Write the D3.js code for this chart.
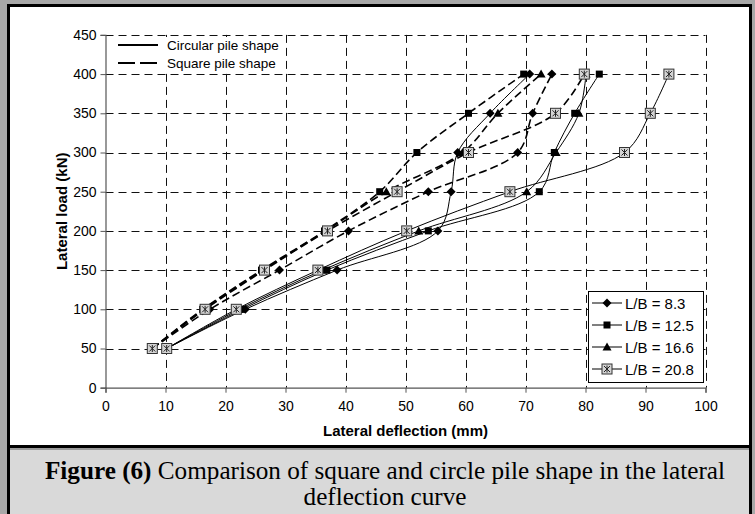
<!DOCTYPE html>
<html><head><meta charset="utf-8">
<script src="https://cdn.jsdelivr.net/npm/d3@7"></script>
<style>body{margin:0;background:#fff}svg{display:block}</style>
</head><body><svg id="c" width="755" height="514"></svg>
<script>
// ---------- data ----------
const loads = [50, 100, 150, 200, 250, 300, 350, 400];
const xTicks = [0, 10, 20, 30, 40, 50, 60, 70, 80, 90, 100];
const yTicks = [0, 50, 100, 150, 200, 250, 300, 350, 400, 450];
const ratioLabels = ["L/B = 8.3", "L/B = 12.5", "L/B = 16.6", "L/B = 20.8"];
const markerTypes = ["diamond", "square", "triangle", "squareX"];
const shapeLabels = ["Circular pile shape", "Square pile shape"];
// circular pile (solid lines): deflection (mm) at each load
const circular_8_3  = [10.2, 23.3, 38.6, 55.4, 57.6, 58.7, 64.1, 70.7];
const circular_12_5 = [10.2, 22.8, 36.9, 53.8, 72.3, 74.8, 78.2, 82.3];
const circular_16_6 = [10.2, 22.3, 36.2, 52.2, 70.2, 75.1, 78.9, 80.1];
const circular_20_8 = [10.2, 21.8, 35.4, 50.2, 67.4, 86.5, 90.8, 93.9];
// square pile (dashed lines)
const square_8_3  = [7.8, 17.4, 29.0, 40.5, 53.8, 68.7, 71.2, 74.4];
const square_12_5 = [7.8, 16.2, 26.0, 36.5, 45.7, 51.9, 60.5, 69.7];
const square_16_6 = [7.8, 16.4, 26.3, 36.7, 46.8, 59.5, 65.4, 72.6];
const square_20_8 = [7.8, 16.6, 26.5, 37.0, 48.6, 60.5, 75.0, 79.8];

const series = [
  {vals: circular_8_3, m: 0, dashed: false},
  {vals: circular_12_5, m: 1, dashed: false},
  {vals: circular_16_6, m: 2, dashed: false},
  {vals: circular_20_8, m: 3, dashed: false},
  {vals: square_8_3, m: 0, dashed: true},
  {vals: square_12_5, m: 1, dashed: true},
  {vals: square_16_6, m: 2, dashed: true},
  {vals: square_20_8, m: 3, dashed: true}
];

// ---------- frame ----------
const svg = d3.select("#c");
svg.append("rect").attr("x",0).attr("y",0).attr("width",755).attr("height",514).attr("fill","#a8a8a8");
svg.append("rect").attr("x",7).attr("y",4).attr("width",745).attr("height",512).attr("fill","#000");
svg.append("rect").attr("x",10).attr("y",7).attr("width",739).attr("height",438).attr("fill","#fff");
svg.append("rect").attr("x",10).attr("y",448).attr("width",739).attr("height",70).attr("fill","#d9d9d9");
svg.append("rect").attr("x",10).attr("y",448).attr("width",739).attr("height",2).attr("fill","#9a9a9a");

const x = d3.scaleLinear().domain([0, 100]).range([105.5, 705.5]);
const y = d3.scaleLinear().domain([0, 450]).range([387.7, 34.9]);

// grid
const grid = svg.append("g").attr("stroke","#111").attr("stroke-width",1).attr("stroke-dasharray","8,5");
grid.selectAll(".gx").data(xTicks.slice(1)).join("line")
  .attr("x1", d=>Math.round(x(d))+0.5).attr("x2", d=>Math.round(x(d))+0.5)
  .attr("y1", y(450)).attr("y2", y(0));
grid.selectAll(".gy").data(yTicks.slice(1)).join("line")
  .attr("y1", d=>Math.round(y(d))+0.5).attr("y2", d=>Math.round(y(d))+0.5)
  .attr("x1", x(0)).attr("x2", x(100));

// top-left legend background (hides grid)
svg.append("rect").attr("x",108).attr("y",37).attr("width",175).attr("height",33).attr("fill","#fff");

// axes
const xAxis = svg.append("g").attr("transform",`translate(0,${y(0)})`)
  .call(d3.axisBottom(x).tickValues(xTicks).tickSize(5).tickPadding(8).tickFormat(d3.format("d")));
const yAxis = svg.append("g").attr("transform",`translate(${x(0)},0)`)
  .call(d3.axisLeft(y).tickValues(yTicks).tickSize(5).tickPadding(4).tickFormat(d3.format("d")));
[xAxis, yAxis].forEach(a => {
  a.select(".domain").attr("stroke","#555").attr("stroke-width",1.2);
  a.selectAll(".tick line").attr("stroke","#555");
  a.selectAll("text").attr("font-family","'Liberation Sans', Arial, sans-serif").attr("font-size",14).attr("fill","#000");
});

// axis titles
svg.append("text").attr("x", 405.5).attr("y", 436).attr("text-anchor","middle")
  .attr("font-family","'Liberation Sans', Arial, sans-serif").attr("font-weight","bold").attr("font-size",15)
  .text("Lateral deflection (mm)");
svg.append("text").attr("transform",`translate(67,${(y(0)+y(450))/2}) rotate(-90)`).attr("text-anchor","middle")
  .attr("font-family","'Liberation Sans', Arial, sans-serif").attr("font-weight","bold").attr("font-size",15)
  .text("Lateral load (kN)");

// lines
const line = d3.line().x(d=>x(d[0])).y(d=>y(d[1])).curve(d3.curveCatmullRom.alpha(0.5));
const lg = svg.append("g").attr("fill","none").attr("stroke","#000");
series.forEach(s => {
  const pts = s.vals.map((v,i)=>[v, loads[i]]);
  lg.append("path").attr("d", line(pts))
    .attr("stroke-width", s.dashed ? 1.6 : 1)
    .attr("stroke-dasharray", s.dashed ? "8,4" : null);
});

// markers
function marker(g, type, cx, cy) {
  if (type === "diamond") {
    g.append("path").attr("d",`M${cx},${cy-4.5}L${cx+4.5},${cy}L${cx},${cy+4.5}L${cx-4.5},${cy}Z`).attr("fill","#000");
  } else if (type === "square") {
    g.append("rect").attr("x",cx-3.5).attr("y",cy-3.5).attr("width",7).attr("height",7).attr("fill","#000");
  } else if (type === "triangle") {
    g.append("path").attr("d",`M${cx},${cy-4.5}L${cx+4.5},${cy+3.5}L${cx-4.5},${cy+3.5}Z`).attr("fill","#000");
  } else {
    g.append("rect").attr("x",cx-5).attr("y",cy-5).attr("width",10).attr("height",10)
      .attr("fill","#d4d4d4").attr("stroke","#333").attr("stroke-width",1);
    g.append("path").attr("d",`M${cx-3},${cy-3}L${cx+3},${cy+3}M${cx+3},${cy-3}L${cx-3},${cy+3}M${cx},${cy-3.5}L${cx},${cy+3.5}`)
      .attr("stroke","#222").attr("stroke-width",1).attr("fill","none");
  }
}
const mg = svg.append("g");
series.forEach(s => {
  s.vals.forEach((v,i) => marker(mg, markerTypes[s.m], x(v), y(loads[i])));
});

// legend 1 (line style)
const l1 = svg.append("g").attr("font-family","'Liberation Sans', Arial, sans-serif").attr("font-size",13.5);
[45, 63].forEach((yy, i) => {
  l1.append("line").attr("x1",118).attr("x2",158).attr("y1",yy).attr("y2",yy)
    .attr("stroke","#000").attr("stroke-width",2).attr("stroke-dasharray", i ? "17,5" : null);
  l1.append("text").attr("x",167).attr("y",yy+5).text(shapeLabels[i]);
});

// legend 2 (markers)
const l2 = svg.append("g");
l2.append("rect").attr("x",588.5).attr("y",291.5).attr("width",115).attr("height",91)
  .attr("fill","#fff").attr("stroke","#000").attr("stroke-width",1);
ratioLabels.forEach((t,i) => {
  const yy = 303 + i*22;
  l2.append("line").attr("x1",592).attr("x2",622).attr("y1",yy).attr("y2",yy).attr("stroke","#000");
  marker(l2, markerTypes[i], 607, yy);
  l2.append("text").attr("x",625).attr("y",yy+5.5).attr("font-family","'Liberation Sans', Arial, sans-serif")
    .attr("font-size",15).text(t);
});

// caption
const cap = svg.append("text").attr("x",385).attr("y",479).attr("text-anchor","middle")
  .attr("font-family","'Liberation Serif', 'Times New Roman', serif").attr("font-size",25.2).attr("fill","#000");
cap.append("tspan").attr("font-weight","bold").text("Figure (6)");
cap.append("tspan").text(" Comparison of square and circle pile shape in the lateral");
svg.append("text").attr("x",385).attr("y",505).attr("text-anchor","middle")
  .attr("font-family","'Liberation Serif', 'Times New Roman', serif").attr("font-size",25.2).attr("fill","#000")
  .text("deflection curve");
</script></body></html>
